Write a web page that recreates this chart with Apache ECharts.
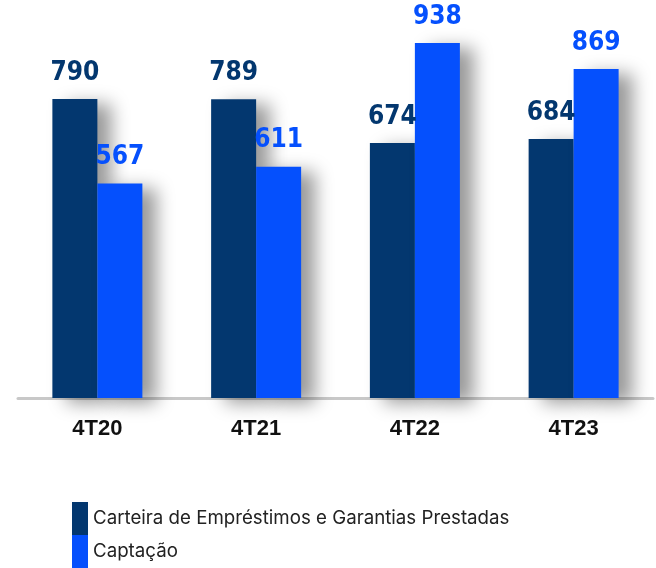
<!DOCTYPE html>
<html>
<head>
<meta charset="utf-8">
<script src="https://cdn.jsdelivr.net/npm/echarts@6/dist/echarts.min.js"></script>
<style>
  html, body { margin: 0; padding: 0; background: #fff; }
  #chart { width: 656px; height: 568px; }
</style>
</head>
<body>
<div id="chart"></div>
<script>
// dados do gráfico
var categories = ['4T20', '4T21', '4T22', '4T23'];
var carteira = [790, 789, 674, 684];
var captacao = [567, 611, 938, 869];
var seriesNames = ['Carteira de Empréstimos e Garantias Prestadas', 'Captação'];

var darkBlue = '#03376f';
var brightBlue = '#0550fd';

var chart = echarts.init(document.getElementById('chart'));

function barSeries(name, data, color) {
  return {
    name: name,
    type: 'bar',
    data: data,
    barWidth: 45,
    barGap: '0%',
    itemStyle: {
      color: color,
      shadowColor: 'rgba(0,0,0,0.4)',
      shadowBlur: 18,
      shadowOffsetX: 14,
      shadowOffsetY: 5
    },
    label: {
      show: true,
      position: 'top',
      distance: 13,
      color: color,
      fontFamily: '"DejaVu Sans Condensed", sans-serif',
      fontWeight: 'bold',
      fontSize: 26
    }
  };
}

// uma legenda por item (empilhadas)
function legendItem(name, top) {
  return {
    left: 72,
    top: top,
    padding: 0,
    itemWidth: 16,
    itemHeight: 33,
    itemGap: 0,
    icon: 'rect',
    textStyle: {
      color: '#222',
      fontFamily: 'Inter, "Noto Sans", sans-serif',
      fontSize: 18.7,
      padding: [4, 0, 0, 0]
    },
    data: [name]
  };
}

var option = {
  animation: false,
  grid: {
    left: 18,
    right: 3,
    top: 19.5,
    bottom: 170
  },
  legend: [
    legendItem(seriesNames[0], 502),
    legendItem(seriesNames[1], 535)
  ],
  xAxis: {
    type: 'category',
    data: categories,
    axisLine: { lineStyle: { color: '#c8c8c8', width: 3 } },
    axisTick: { show: false },
    axisLabel: {
      margin: 20,
      color: '#111',
      fontFamily: '"Liberation Sans", Arial, sans-serif',
      fontWeight: 'bold',
      fontSize: 22
    }
  },
  yAxis: {
    type: 'value',
    min: 0,
    max: 1000,
    show: false,
    splitLine: { show: false }
  },
  series: [
    barSeries(seriesNames[0], carteira, darkBlue),
    barSeries(seriesNames[1], captacao, brightBlue)
  ]
};

chart.setOption(option);
</script>
</body>
</html>
